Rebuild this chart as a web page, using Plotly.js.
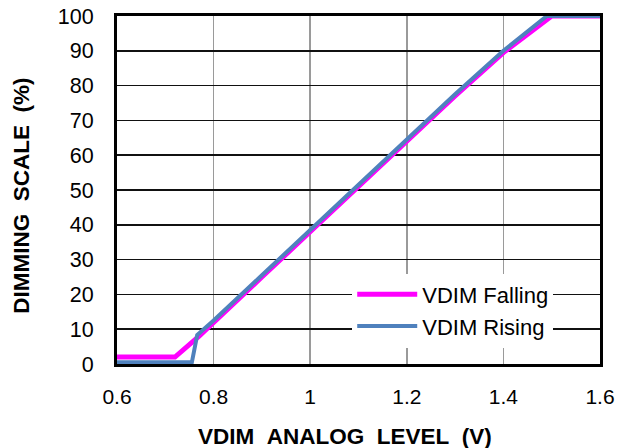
<!DOCTYPE html>
<html><head><meta charset="utf-8">
<script src="https://cdn.plot.ly/plotly-3.0.1.min.js"></script>
<style>html,body{margin:0;padding:0;background:#fff}#chart{width:627px;height:448px}</style>
</head><body><div id="chart"></div>
<script>
const fallingV = [0.6, 0.72, 0.77, 0.8, 0.9, 1.0, 1.1, 1.2, 1.3, 1.4, 1.5, 1.6];
const fallingPct = [2, 2, 8, 12, 25, 38, 51, 64, 77, 89.5, 100, 100];
const risingV = [0.6, 0.755, 0.766, 0.8, 0.9, 1.0, 1.1, 1.2, 1.3, 1.4, 1.49, 1.6];
const risingPct = [0.5, 0.5, 8.3, 12.5, 25.5, 38.5, 51.5, 64.5, 77.5, 90, 100, 100];
const xTicks = [0.6, 0.8, 1, 1.2, 1.4, 1.6];
const yTicks = [0, 10, 20, 30, 40, 50, 60, 70, 80, 90, 100];
const xTitle = 'VDIM\u00a0\u00a0ANALOG\u00a0\u00a0LEVEL\u00a0\u00a0(V)';
const yTitle = 'DIMMING\u00a0\u00a0SCALE\u00a0\u00a0(%)';

const FONT = 'Liberation Sans, Arial, sans-serif';
const data = [
  {x: fallingV, y: fallingPct, name: 'VDIM Falling', mode: 'lines', line: {color: '#ff00ff', width: 5}},
  {x: risingV, y: risingPct, name: 'VDIM Rising', mode: 'lines', line: {color: '#4f81bd', width: 4}}
];
const titleFont = {family: FONT, size: 22.5, weight: 'bold', color: '#000'};
const layout = {
  width: 627, height: 448,
  margin: {l: 117, r: 27, t: 16, b: 84},
  paper_bgcolor: '#fff', plot_bgcolor: '#fff',
  font: {family: FONT, size: 22, color: '#000'},
  showlegend: true,
  legend: {x: 0.487, y: 0.26, xanchor: 'left', yanchor: 'top', bgcolor: '#fff', borderwidth: 0,
           font: {family: FONT, size: 22, color: '#000'}, itemwidth: 60, tracegroupgap: 0},
  xaxis: {
    range: [0.6, 1.6], tickvals: xTicks, ticktext: xTicks.map(String),
    showgrid: true, gridcolor: '#9a9a9a', gridwidth: 1.5,
    showline: true, linecolor: '#000', linewidth: 3, mirror: true,
    ticks: 'outside', ticklen: 12, tickcolor: 'rgba(0,0,0,0)',
    tickfont: {size: 21},
    zeroline: false, fixedrange: true
  },
  yaxis: {
    range: [0, 100], tickvals: yTicks,
    showgrid: true, gridcolor: '#111', gridwidth: 1.5,
    showline: true, linecolor: '#000', linewidth: 3, mirror: true,
    ticks: 'outside', ticklen: 16, tickcolor: 'rgba(0,0,0,0)',
    tickfont: {size: 21.5},
    zeroline: false, fixedrange: true
  },
  annotations: [
    {text: xTitle, xref: 'paper', yref: 'paper', x: 0.472, y: -0.207, xanchor: 'center', yanchor: 'middle',
     showarrow: false, font: titleFont},
    {text: yTitle, xref: 'paper', yref: 'paper', x: -0.197, y: 0.483, xanchor: 'center', yanchor: 'middle',
     textangle: -90, showarrow: false, font: titleFont}
  ]
};
Plotly.newPlot('chart', data, layout, {staticPlot: true, displayModeBar: false});
</script></body></html>
